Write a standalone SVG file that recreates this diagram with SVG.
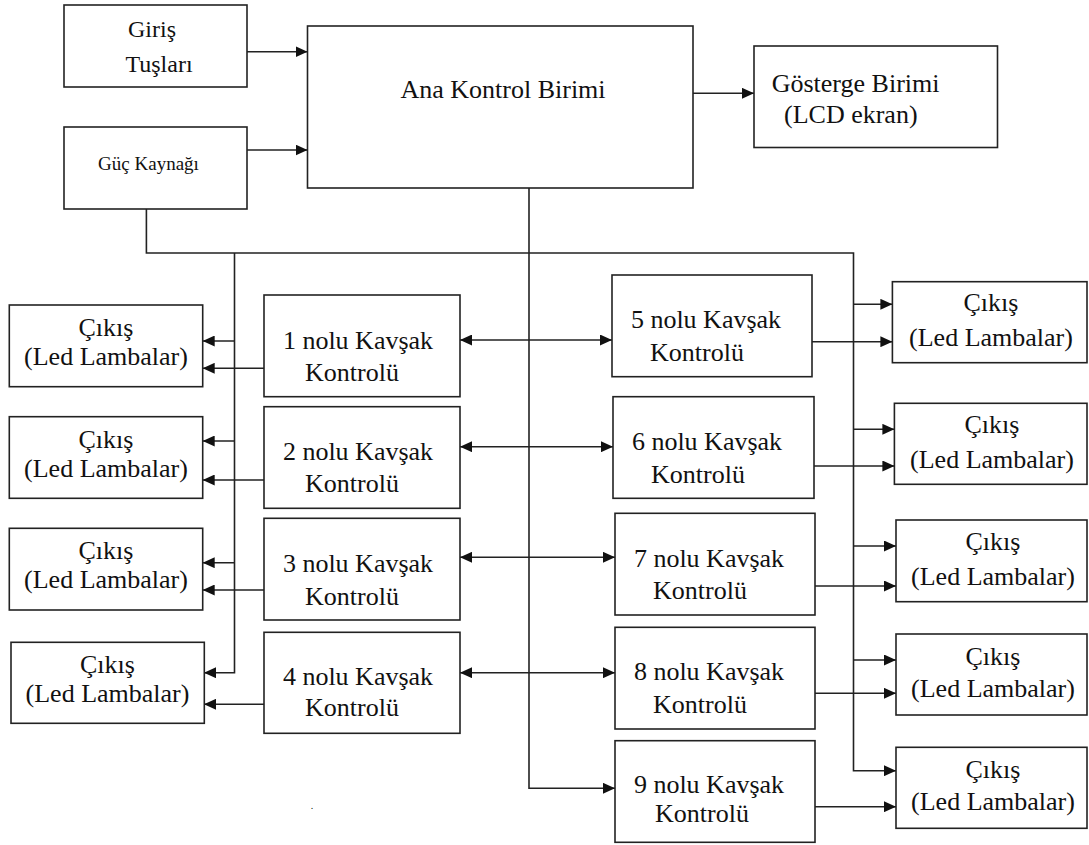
<svg xmlns="http://www.w3.org/2000/svg" width="1089" height="845" viewBox="0 0 1089 845">
<style>
.box{fill:#fff;stroke:#222;stroke-width:1.6}
text{font-family:'Liberation Serif','Times New Roman','DejaVu Serif',serif;font-size:26px;fill:#111;text-anchor:middle}
.s{text-anchor:start}
.sm{font-size:19px}
.g{font-size:24px}
.ln{stroke:#222;stroke-width:1.6;fill:none}
.a{marker-end:url(#ah)}
.b{marker-start:url(#ah);marker-end:url(#ah)}
</style>
<defs>
<marker id="ah" markerUnits="userSpaceOnUse" markerWidth="13" markerHeight="11" refX="12" refY="5.5" orient="auto-start-reverse">
<path d="M0,0 L12,5.5 L0,11 z" fill="#111"/>
</marker>
</defs>
<rect width="1089" height="845" fill="#fff"/>
<g id="connectors">
<path class="ln a" d="M246.7,51.7 H307.5"/>
<path class="ln a" d="M246.7,150 H307.5"/>
<path class="ln a" d="M693,93.3 H754"/>
<path class="ln a" d="M146.4,209 V253 H853.5 V770.7 H896"/>
<path class="ln a" d="M234.5,253 V672.7 H204"/>
<path class="ln a" d="M529,188 V788.3 H615"/>
<path class="ln a" d="M234.5,341 H202.7"/>
<path class="ln a" d="M234.5,441 H202.7"/>
<path class="ln a" d="M234.5,562.7 H202.7"/>
<path class="ln a" d="M264,368.3 H202.7"/>
<path class="ln a" d="M264,480 H202.7"/>
<path class="ln a" d="M264,590 H202.7"/>
<path class="ln a" d="M264,704.3 H204"/>
<path class="ln b" d="M460,340 H612"/>
<path class="ln b" d="M460,446.7 H613"/>
<path class="ln b" d="M460,557.3 H615"/>
<path class="ln b" d="M460,672.7 H615"/>
<path class="ln a" d="M853.5,304.3 H892.4"/>
<path class="ln a" d="M853.5,429.3 H894.4"/>
<path class="ln a" d="M853.5,546 H896"/>
<path class="ln a" d="M853.5,660 H896"/>
<path class="ln a" d="M812,341.7 H892.4"/>
<path class="ln a" d="M814,466 H894.4"/>
<path class="ln a" d="M815,586 H896"/>
<path class="ln a" d="M815,693.3 H896"/>
<path class="ln a" d="M815,806.7 H896"/>
</g>
<g id="giris"><rect class="box" x="64" y="5" width="183" height="82"/><text class="g" x="152" y="37">Giriş</text><text class="g" x="159" y="72">Tuşları</text></g>
<g id="guc"><rect class="box" x="64" y="127" width="183" height="82"/><text class="sm" x="148.5" y="170">Güç Kaynağı</text></g>
<g id="ana"><rect class="box" x="307.5" y="26" width="385.5" height="162"/><text x="503" y="98.3">Ana Kontrol Birimi</text></g>
<g id="gosterge"><rect class="box" x="754" y="46" width="243.5" height="101.5"/><text class="s" x="771.7" y="91.7">Gösterge Birimi</text><text class="s" x="784" y="123.3">(LCD ekran)</text></g>
<g id="kavsak1"><rect class="box" x="264" y="295" width="196" height="101.7"/><text x="358" y="349">1 nolu Kavşak</text><text x="352" y="381">Kontrolü</text></g>
<g id="kavsak2"><rect class="box" x="264" y="406.7" width="196" height="101.6"/><text x="358" y="460">2 nolu Kavşak</text><text x="352" y="492">Kontrolü</text></g>
<g id="kavsak3"><rect class="box" x="264" y="518.3" width="196" height="101.7"/><text x="358" y="571.5">3 nolu Kavşak</text><text x="352" y="605">Kontrolü</text></g>
<g id="kavsak4"><rect class="box" x="264" y="632.3" width="196" height="101"/><text x="358" y="685">4 nolu Kavşak</text><text x="352" y="716">Kontrolü</text></g>
<g id="kavsak5"><rect class="box" x="612" y="275" width="200" height="101.7"/><text x="706" y="328.3">5 nolu Kavşak</text><text x="697" y="360.7">Kontrolü</text></g>
<g id="kavsak6"><rect class="box" x="613" y="396.7" width="201" height="101.6"/><text x="707" y="450">6 nolu Kavşak</text><text x="698" y="482.7">Kontrolü</text></g>
<g id="kavsak7"><rect class="box" x="615" y="513.3" width="200" height="101.7"/><text x="709" y="566.5">7 nolu Kavşak</text><text x="700" y="598.5">Kontrolü</text></g>
<g id="kavsak8"><rect class="box" x="615" y="627.3" width="200" height="101.7"/><text x="709" y="680">8 nolu Kavşak</text><text x="700" y="713.3">Kontrolü</text></g>
<g id="kavsak9"><rect class="box" x="615" y="740.7" width="200" height="101.6"/><text x="709" y="793.3">9 nolu Kavşak</text><text x="702" y="822">Kontrolü</text></g>
<g id="cikisL1"><rect class="box" x="9.3" y="305" width="193.4" height="81.7"/><text x="106" y="336">Çıkış</text><text x="106" y="365">(Led Lambalar)</text></g>
<g id="cikisL2"><rect class="box" x="9.3" y="416.7" width="193.4" height="81.6"/><text x="106" y="447.7">Çıkış</text><text x="106" y="476.7">(Led Lambalar)</text></g>
<g id="cikisL3"><rect class="box" x="9.3" y="528.3" width="193.4" height="81.7"/><text x="106" y="559.3">Çıkış</text><text x="106" y="588.3">(Led Lambalar)</text></g>
<g id="cikisL4"><rect class="box" x="11" y="642.3" width="193.3" height="81"/><text x="107.5" y="673.3">Çıkış</text><text x="107.5" y="702.3">(Led Lambalar)</text></g>
<g id="cikisR1"><rect class="box" x="892.4" y="281.7" width="194.6" height="81"/><text x="991" y="311">Çıkış</text><text x="991" y="346">(Led Lambalar)</text></g>
<g id="cikisR2"><rect class="box" x="894.4" y="403.3" width="192.6" height="81"/><text x="992" y="433">Çıkış</text><text x="992" y="467.5">(Led Lambalar)</text></g>
<g id="cikisR3"><rect class="box" x="896" y="520" width="191" height="81.7"/><text x="993" y="550">Çıkış</text><text x="993" y="585">(Led Lambalar)</text></g>
<g id="cikisR4"><rect class="box" x="896" y="634" width="191" height="81"/><text x="993" y="665">Çıkış</text><text x="993" y="697">(Led Lambalar)</text></g>
<g id="cikisR5"><rect class="box" x="896" y="747.3" width="191" height="81"/><text x="993" y="778">Çıkış</text><text x="993" y="810">(Led Lambalar)</text></g>
<text x="312" y="809" style="font-size:10px">.</text>
</svg>
